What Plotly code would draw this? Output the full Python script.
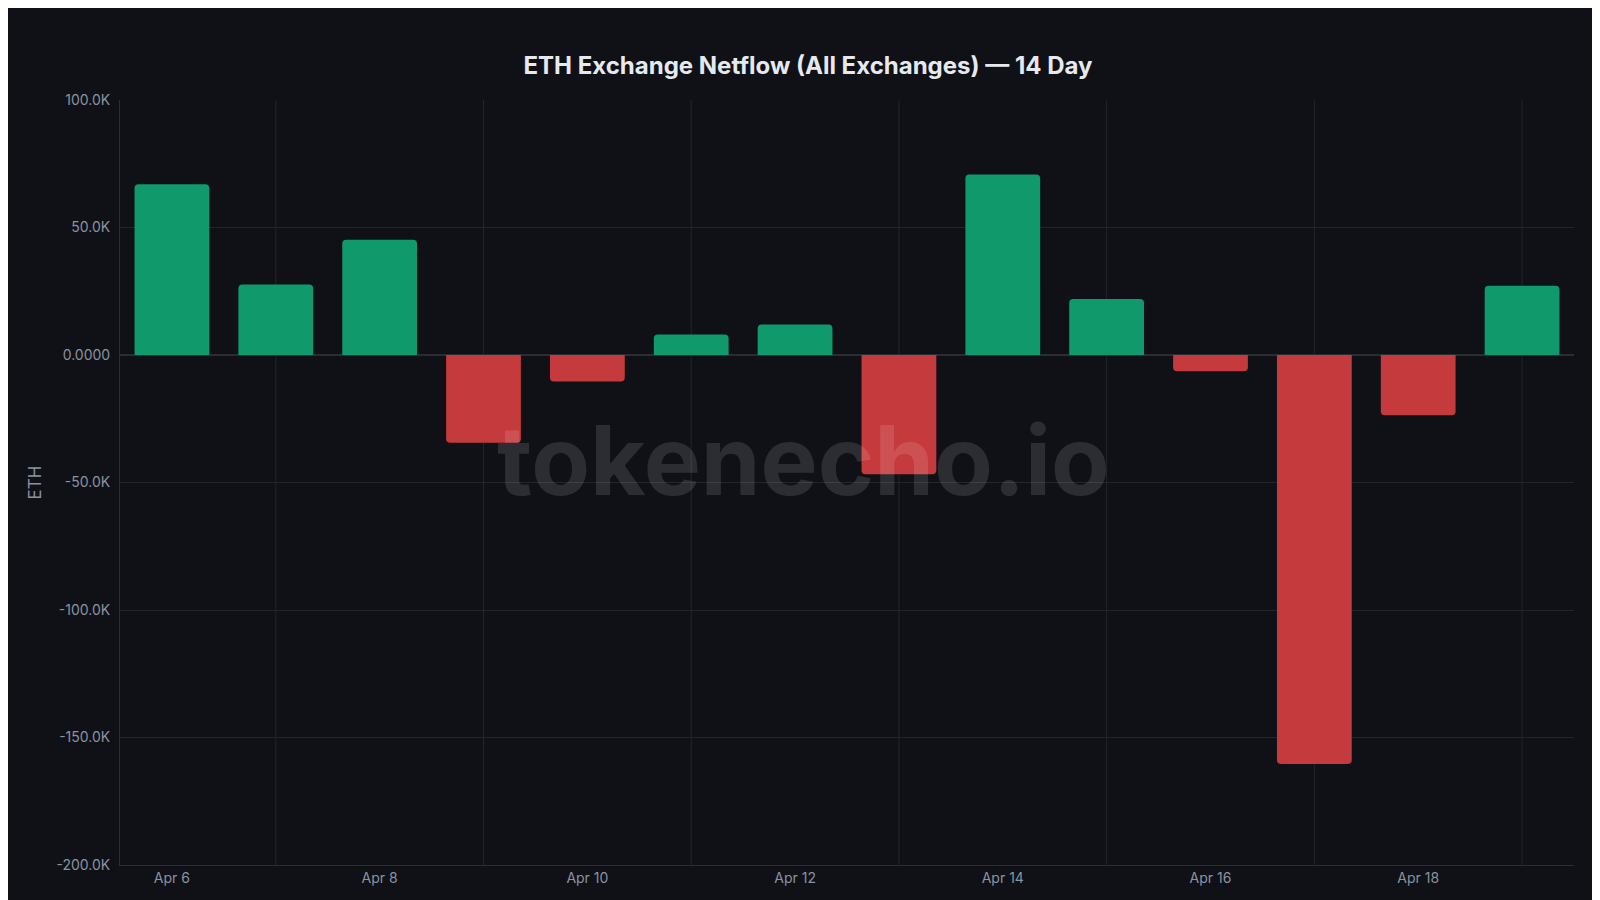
import plotly.graph_objects as go
import pandas as pd

# 14-day ETH netflow, values in ETH
days = pd.date_range("2024-04-06", periods=14, freq="D")
netflow = [67000, 27600, 45200, -34400, -10400, 8000, 12000,
           -46800, 70800, 22000, -6400, -160400, -23600, 27200]
tick_vals = [-200000, -150000, -100000, -50000, 0, 50000, 100000]
tick_text = ["-200.0K", "-150.0K", "-100.0K", "-50.0K", "0.0000", "50.0K", "100.0K"]

colors = ["#10996b" if v >= 0 else "#c53a3c" for v in netflow]

fig = go.Figure(go.Bar(x=days, y=netflow, marker_color=colors,
                       marker_line_width=0, marker_cornerradius=4, width=0.72 * 86400000))

# vertical grid at odd days
for d in days[1::2]:
    fig.add_shape(type="line", xref="x", yref="paper", x0=d, x1=d, y0=0, y1=1,
                  line=dict(color="#22252d", width=1), layer="below")

fig.add_annotation(text="<b>tokenecho.io</b>", xref="paper", yref="paper", x=0.47, y=0.53,
                   showarrow=False, font=dict(size=96, color="rgba(255,255,255,0.12)",
                                              family="Inter"))

fig.update_layout(
    width=1600, height=900,
    paper_bgcolor="#0f1117", plot_bgcolor="#0f1117",
    font=dict(family="Inter", color="#8a93a0", size=14),
    title=dict(text="<b>ETH Exchange Netflow (All Exchanges) — 14 Day</b>", x=0.5, y=0.945,
               font=dict(size=24, color="#e6e9ee")),
    margin=dict(l=112, r=34, t=92, b=43),
    showlegend=False, bargap=0.28,
    xaxis=dict(tickformat="%b %-d", tickvals=days[::2], showgrid=False,
               showline=True, linecolor="#2a2d35", ticks="", zeroline=False,
               range=[days[0] - pd.Timedelta(hours=12), days[-1] + pd.Timedelta(hours=12)]),
    yaxis=dict(title=dict(text="ETH", standoff=10), range=[-200000, 100000],
               tickvals=tick_vals, ticktext=tick_text, gridcolor="#22252d",
               ticklabelstandoff=6,
               zeroline=True, zerolinecolor="#2a2d35", showline=True, linecolor="#2a2d35"),
)

fig.write_html("out.html")
